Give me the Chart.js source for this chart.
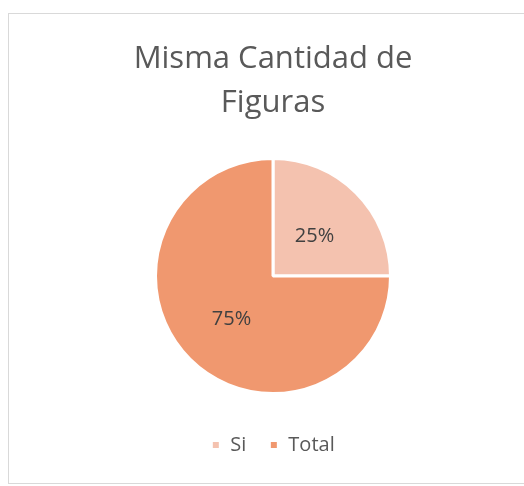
<!DOCTYPE html>
<html>
<head>
<meta charset="utf-8">
<script src="https://cdn.jsdelivr.net/npm/chart.js@4"></script>
<style>
  html, body { margin: 0; padding: 0; background: #fff; }
  #frame { position: absolute; left: 8px; top: 13px; width: 530px; height: 469px; border: 1px solid #d9d9d9; }
  #chart { position: absolute; left: 0; top: 0; }
</style>
</head>
<body>
<div id="frame"></div>
<canvas id="chart" width="524" height="486"></canvas>
<script>
const categories = ['Si', 'Total'];
const values = [25, 75];
const percentLabels = ['25%', '75%'];
const sliceColors = ['#F4C2AF', '#F0986F'];

// draws the percentage inside each slice
const sliceLabels = {
  id: 'sliceLabels',
  afterDatasetsDraw(chart) {
    const ctx = chart.ctx;
    const meta = chart.getDatasetMeta(0);
    ctx.save();
    ctx.font = '20px "Open Sans"';
    ctx.fillStyle = '#404040';
    ctx.textAlign = 'center';
    ctx.textBaseline = 'middle';
    meta.data.forEach((arc, i) => {
      const p = arc.tooltipPosition();
      ctx.fillText(percentLabels[i], p.x, p.y + 2);
    });
    ctx.restore();
  }
};

new Chart(document.getElementById('chart'), {
  type: 'pie',
  data: {
    labels: categories,
    datasets: [{
      data: values,
      backgroundColor: sliceColors,
      borderColor: '#ffffff',
      borderWidth: 3,
      radius: 117.5
    }]
  },
  options: {
    responsive: false,
    animation: false,
    layout: { padding: { left: 22, right: 0, top: 13, bottom: 21 } },
    plugins: {
      title: {
        display: true,
        text: ['Misma Cantidad de', 'Figuras'],
        color: '#595959',
        font: { family: 'Open Sans', size: 31, weight: 'normal', lineHeight: 1.42 },
        padding: { top: 24, bottom: 15 }
      },
      legend: {
        position: 'bottom',
        labels: {
          color: '#595959',
          font: { family: 'Open Sans', size: 20 },
          boxWidth: 9,
          boxHeight: 9,
          padding: 23
        }
      },
      tooltip: { enabled: false }
    }
  },
  plugins: [sliceLabels]
});
</script>
</body>
</html>
